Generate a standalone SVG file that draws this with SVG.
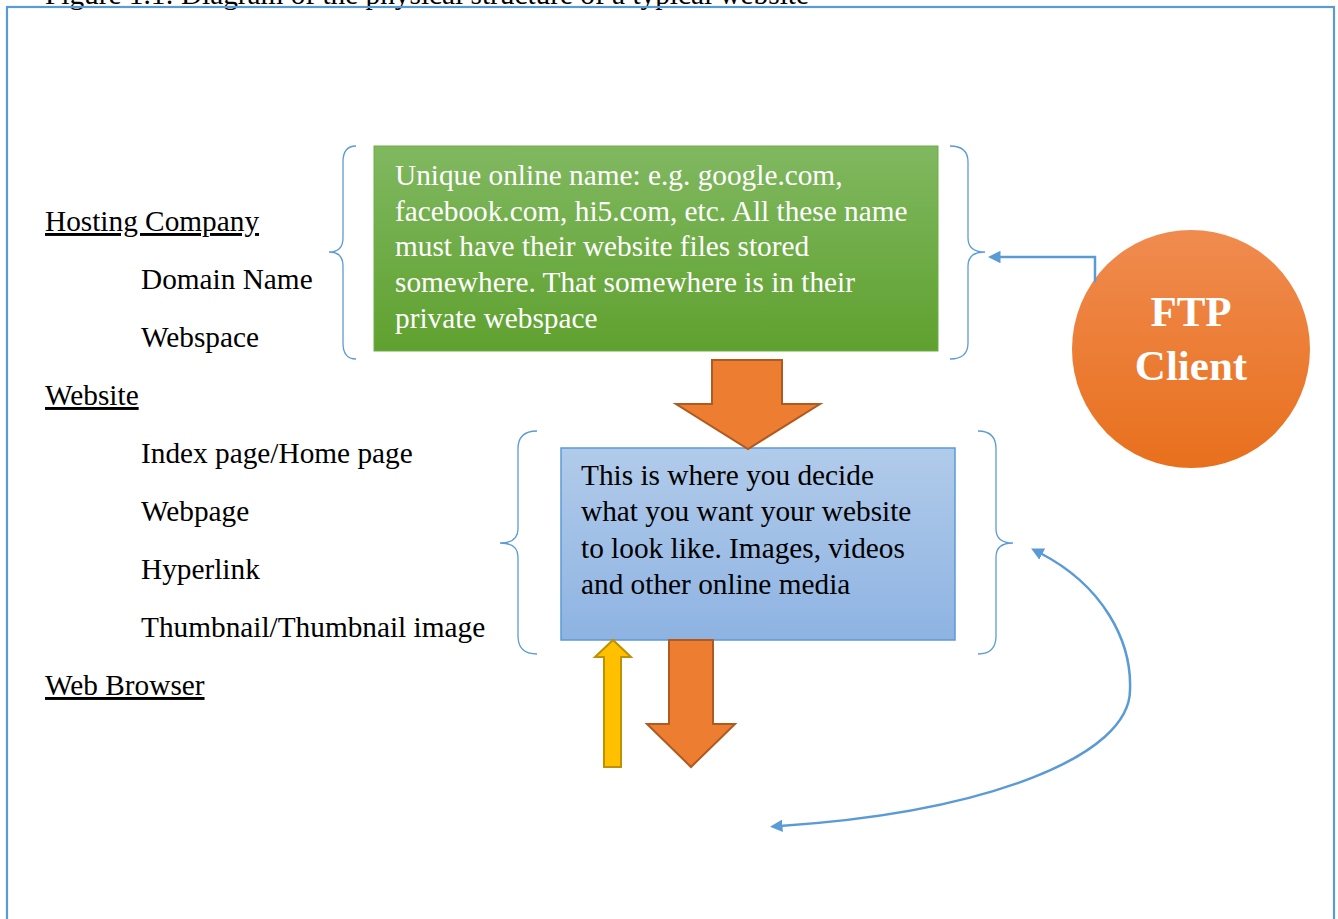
<svg xmlns="http://www.w3.org/2000/svg" width="1338" height="919" viewBox="0 0 1338 919">
<defs>
<style>
.t{font-family:"Liberation Serif","Times New Roman",serif;font-size:29.3px;fill:#000}
.w{fill:#fff}
.u{text-decoration:underline}
.brace{fill:none;stroke:#5B9BD5;stroke-width:1.3}
.conn{fill:none;stroke:#5B9BD5;stroke-width:2.5}
.orange{fill:#ED7D31;stroke:#AE5A21;stroke-width:2}
.yellow{fill:#FFC000;stroke:#BF9000;stroke-width:2}
</style>
<linearGradient id="gGreen" x1="0" y1="0" x2="0" y2="1">
<stop offset="0" stop-color="#80B860"/>
<stop offset="1" stop-color="#5FA12F"/>
</linearGradient>
<linearGradient id="gBlue" x1="0" y1="0" x2="0" y2="1">
<stop offset="0" stop-color="#B1CBEA"/>
<stop offset="1" stop-color="#8EB3E2"/>
</linearGradient>
<linearGradient id="gOrange" x1="0" y1="0" x2="0" y2="1">
<stop offset="0" stop-color="#F08B4F"/>
<stop offset="1" stop-color="#E8701D"/>
</linearGradient>
<marker id="ah" viewBox="0 0 10 10" refX="2" refY="5" markerWidth="5" markerHeight="5" orient="auto-start-reverse" markerUnits="strokeWidth">
<path d="M0,0 L10,5 L0,10 z" fill="#5B9BD5"/>
</marker>
</defs>

<rect width="1338" height="919" fill="#fff"/>
<text class="t" x="45" y="4">Figure 1.1: Diagram of the physical structure of a typical website</text>
<rect x="7" y="7" width="1327" height="930" fill="none" stroke="#5B9BD5" stroke-width="2.2"/>

<g id="list">
<text class="t u" x="45" y="231">Hosting Company</text>
<text class="t" x="141" y="289">Domain Name</text>
<text class="t" x="141" y="347">Webspace</text>
<text class="t u" x="45" y="405">Website</text>
<text class="t" x="141" y="463">Index page/Home page</text>
<text class="t" x="141" y="521">Webpage</text>
<text class="t" x="141" y="579">Hyperlink</text>
<text class="t" x="141" y="637">Thumbnail/Thumbnail image</text>
<text class="t u" x="45" y="695">Web Browser</text>
</g>

<g id="domain">
<path class="brace" d="M356 146 Q343 146 343 162 L343 238 Q343 252 329 252 Q343 252 343 266 L343 343 Q343 359 356 359"/>
<path class="brace" d="M950 146 Q968 146 968 162 L968 238 Q968 252 985 252 Q968 252 968 266 L968 343 Q968 359 950 359"/>
<rect x="374" y="146" width="564" height="205" fill="url(#gGreen)" stroke="#70AD47" stroke-width="1"/>
<text class="t w" x="395" y="185">Unique online name: e.g. google.com,</text>
<text class="t w" x="395" y="221">facebook.com, hi5.com, etc. All these name</text>
<text class="t w" x="395" y="256">must have their website files stored</text>
<text class="t w" x="395" y="292">somewhere. That somewhere is in their</text>
<text class="t w" x="395" y="328">private webspace</text>
</g>

<g id="website">
<path class="brace" d="M537 431 Q518 431 518 449 L518 529 Q518 543 500 543 Q518 543 518 557 L518 636 Q518 654 537 654"/>
<path class="brace" d="M978 431 Q996 431 996 449 L996 529 Q996 543 1013 543 Q996 543 996 557 L996 636 Q996 654 978 654"/>
<rect x="561" y="448" width="394" height="192" fill="url(#gBlue)" stroke="#5B9BD5" stroke-width="1.5"/>
<text class="t" x="581" y="485">This is where you decide</text>
<text class="t" x="581" y="521">what you want your website</text>
<text class="t" x="581" y="558">to look like. Images, videos</text>
<text class="t" x="581" y="594">and other online media</text>
</g>

<g id="ftp">
<circle cx="1191" cy="349" r="119" fill="url(#gOrange)"/>
<text x="1191" y="326" text-anchor="middle" font-family="Liberation Serif, Times New Roman, serif" font-weight="bold" font-size="43" fill="#fff">FTP</text>
<text x="1191" y="380" text-anchor="middle" font-family="Liberation Serif, Times New Roman, serif" font-weight="bold" font-size="43" fill="#fff">Client</text>
</g>

<g id="connectors">
<path class="orange" d="M712 360 L782 360 L782 404 L820 404 L748 449 L676 404 L712 404 Z"/>
<path class="orange" d="M669 640 L713 640 L713 724 L735 724 L691 767 L647 724 L669 724 Z"/>
<path class="yellow" d="M604 767 L621 767 L621 657 L631 657 L613 640 L595 657 L604 657 Z"/>
<path class="conn" d="M1095 282 L1095 257 L998 257" marker-end="url(#ah)"/>
<path class="conn" d="M1040 553 C1102 585 1132 640 1130 690 C1130 755 990 812 780 826" marker-start="url(#ah)" marker-end="url(#ah)"/>
</g>
</svg>
